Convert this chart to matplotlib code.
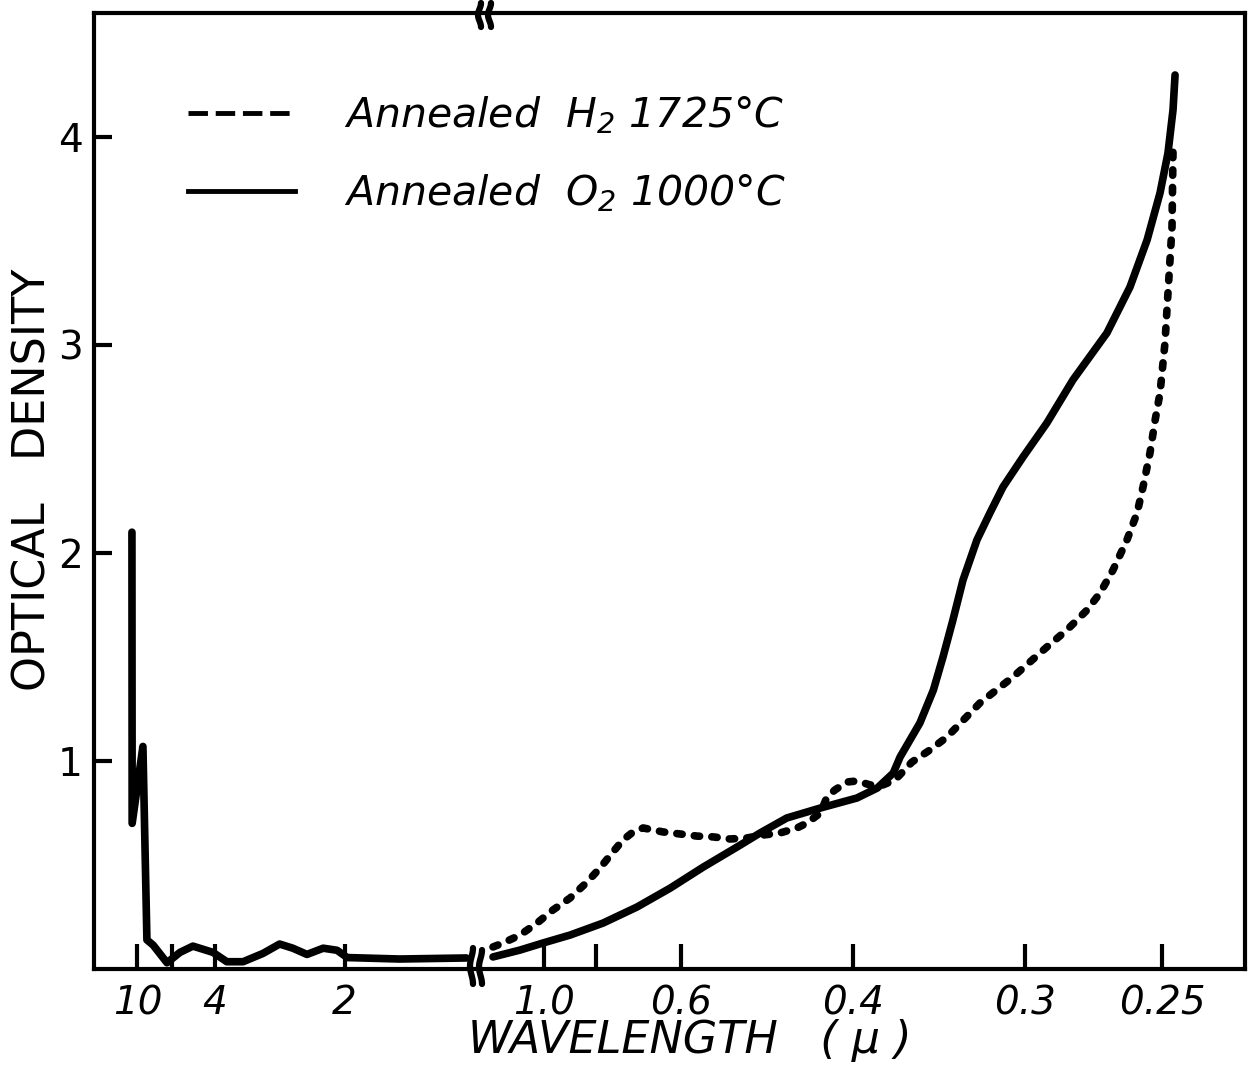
import numpy as np
import matplotlib.pyplot as plt
from matplotlib.lines import Line2D

FONT = ['DejaVu Sans']
plt.rcParams['font.family'] = FONT

# O2 1000C anneal, infrared part (left of the axis break); wavelength in microns
o2_ir_wl = [11.20, 11.15, 9.05, 8.46, 7.68, 6.37, 5.49, 4.83, 4.07, 3.67, 3.29,
            2.92, 2.67, 2.50, 2.34, 2.18, 2.06, 1.98, 1.65, 1.36]
o2_ir_od = [2.10, 0.70, 1.07, 0.14, 0.115, 0.03, 0.08, 0.11, 0.08, 0.035, 0.035,
            0.075, 0.12, 0.10, 0.07, 0.10, 0.09, 0.055, 0.048, 0.053]

# O2 1000C anneal, visible / UV part
o2_wl = [1.329, 1.132, 1.005, 0.888, 0.777, 0.689, 0.620, 0.564, 0.516, 0.488,
         0.459, 0.427, 0.397, 0.382, 0.371, 0.3665, 0.354, 0.346, 0.3405, 0.335,
         0.3296, 0.3224, 0.316, 0.3098, 0.3007, 0.2906, 0.2803, 0.2679, 0.2601, 0.2546,
         0.2506, 0.2482, 0.2467, 0.2461]
o2_od = [0.058, 0.091, 0.125, 0.163, 0.221, 0.298, 0.389, 0.490, 0.587, 0.654,
         0.726, 0.774, 0.822, 0.870, 0.942, 1.019, 1.183, 1.341, 1.500, 1.678,
         1.870, 2.063, 2.192, 2.317, 2.462, 2.625, 2.832, 3.058, 3.279, 3.505,
         3.731, 3.923, 4.130, 4.298]

# H2 1725C anneal, visible / UV part
h2_wl = [1.329, 1.248, 1.132, 1.035, 0.958, 0.888, 0.827, 0.786, 0.749, 0.723,
         0.698, 0.675, 0.634, 0.602, 0.574, 0.549, 0.5255, 0.5037, 0.4847, 0.466,
         0.4488, 0.4392, 0.427, 0.4213, 0.4145, 0.4047, 0.3969, 0.3872, 0.378, 0.3698,
         0.3589, 0.348, 0.3383, 0.3209, 0.3052, 0.2906, 0.2826, 0.275, 0.2703, 0.2658,
         0.2611, 0.2578, 0.2559, 0.2537, 0.2521, 0.2506, 0.2491, 0.2482, 0.2470, 0.2467]
h2_od = [0.106, 0.125, 0.163, 0.221, 0.284, 0.341, 0.418, 0.486, 0.563, 0.620,
         0.659, 0.678, 0.659, 0.649, 0.639, 0.635, 0.625, 0.630, 0.644, 0.654,
         0.678, 0.702, 0.750, 0.827, 0.861, 0.899, 0.904, 0.885, 0.885, 0.909,
         0.995, 1.053, 1.115, 1.279, 1.404, 1.548, 1.630, 1.726, 1.808, 1.918,
         2.063, 2.192, 2.317, 2.481, 2.639, 2.769, 3.010, 3.250, 3.567, 3.938]

ir_ticks = [10, 4, 2]
ir_minor = [6]
uv_ticks = [1.0, 0.6, 0.4, 0.3, 0.25]
uv_minor = [0.8]
uv_labels = ['1.0', '0.6', '0.4', '0.3', '0.25']
od_ticks = [1, 2, 3, 4]

W, H = 1250, 1071
fig = plt.figure(figsize=(W / 100, H / 100), dpi=100)

def frac(x0, x1):
    return [x0 / W, 1 - 969 / H, (x1 - x0) / W, (969 - 13) / H]

ax_ir = fig.add_axes(frac(94, 478))
ax_uv = fig.add_axes(frac(478, 1245))

# x axis runs in wavenumber (1/wavelength), labelled in wavelength
ax_ir.set_xlim(0.0160, 0.7577)
ax_uv.set_xlim(0.6796, 1 + (1245 - 544) / 206)
for ax in (ax_ir, ax_uv):
    ax.set_ylim(0, 4.596)
    for s in ax.spines.values():
        s.set_linewidth(3)
    ax.tick_params(axis='x', which='both', direction='in', length=18, width=3,
                   pad=11, labelsize=28)
ax_ir.spines['right'].set_visible(False)
ax_uv.spines['left'].set_visible(False)

ax_ir.set_xticks(1 / np.array(ir_ticks), [str(t) for t in ir_ticks])
ax_ir.set_xticks(1 / np.array(ir_minor), minor=True)
ax_uv.set_xticks(1 / np.array(uv_ticks), uv_labels)
ax_uv.set_xticks(1 / np.array(uv_minor), minor=True)
for ax in (ax_ir, ax_uv):
    for lab in ax.get_xticklabels():
        lab.set_fontstyle('italic')

ax_ir.set_yticks(od_ticks, [str(t) for t in od_ticks])
ax_ir.tick_params(axis='y', direction='in', length=13, width=3, pad=8, labelsize=28)
ax_uv.tick_params(axis='y', left=False, labelleft=False)

curve = dict(color='black', lw=5.5, solid_capstyle='round', solid_joinstyle='round')
ax_ir.plot(1 / np.array(o2_ir_wl), o2_ir_od, **curve)
ax_uv.plot(1 / np.array(o2_wl), o2_od, **curve)
ax_uv.plot(1 / np.array(h2_wl), h2_od, color='black', lw=5.5,
           linestyle=(0, (0.7, 1.6)), dash_capstyle='round')

# break marks on the frame and curves
def brk(xp, y0, y1, bend):
    t = np.linspace(-1, 1, 20)
    xs = (xp + bend * np.sin(np.pi * t / 2) ** 2 * np.sign(bend)) / W
    ys = 1 - (y0 + (t + 1) / 2 * (y1 - y0)) / H
    fig.add_artist(Line2D(xs, ys, color='black', lw=4.5, solid_capstyle='round'))

brk(478, 3, 27, 3)
brk(488, 3, 27, 3)
brk(470, 948, 984, 3)
brk(479, 950, 984, -3)

handles = [Line2D([], [], color='black', lw=3.5, linestyle=(0, (4, 1.6))),
           Line2D([], [], color='black', lw=3.5)]
labels = [r'Annealed  H$\mathregular{_2}$ 1725°C', r'Annealed  O$\mathregular{_2}$ 1000°C']
fig.legend(handles, labels, loc='upper left', bbox_to_anchor=(188 / W, 1 - 94 / H),
           frameon=False, prop={'family': FONT, 'style': 'italic', 'size': 29.5},
           handlelength=2.6, handletextpad=1.2, labelspacing=0.9,
           borderpad=0, borderaxespad=0)

fig.text(690 / W, 1 - 1040 / H, 'WAVELENGTH   ( μ )', ha='center', va='center',
         fontsize=32, fontstyle='italic')
fig.text(33 / W, 1 - 480 / H, 'OPTICAL   DENSITY', ha='center', va='center',
         rotation=90, fontsize=32)

fig.savefig('out.png', dpi=100)
